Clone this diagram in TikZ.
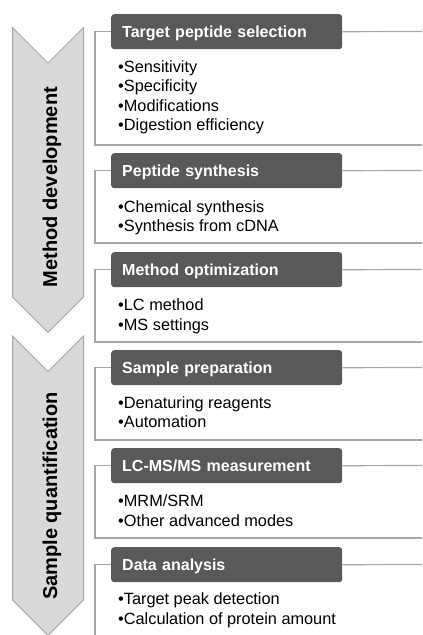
\documentclass[tikz,border=0pt]{standalone}
\usepackage{fontspec}
\setmainfont{Liberation Sans}
\definecolor{boxdark}{HTML}{595959}
\definecolor{linegray}{HTML}{A6A6A6}
\definecolor{chevfill}{HTML}{D9D9D9}
\definecolor{chevline}{HTML}{A6A6A6}
\begin{document}
\begin{tikzpicture}[x=1bp,y=-1bp,
  titlebox/.style={fill=boxdark, rounded corners=3bp, anchor=north west,
    minimum width=231bp, minimum height=35bp, text width=209bp, align=left,
    inner xsep=11bp, inner ysep=0pt, text height=11.5bp, text depth=0pt,
    text=white, font=\fontsize{16bp}{19.4bp}\selectfont\bfseries},
  itemlist/.style={anchor=base west, align=left, inner sep=0pt,
    font=\fontsize{16.3bp}{19.5bp}\selectfont},
  bracket/.style={draw=linegray, line width=1.2bp},
  chevron/.style={fill=chevfill, draw=chevline, line width=1bp},
  sidelabel/.style={rotate=90, anchor=base, inner sep=0pt,
    font=\fontsize{20bp}{24bp}\selectfont\bfseries}]
\useasboundingbox (0,0) rectangle (422,635);

% chevrons
\draw[chevron] (12.5,27.5) -- (48,63) -- (83.5,27.5) -- (83.5,297) -- (48,332.5) -- (12.5,297) -- cycle;
\draw[chevron] (12.5,336) -- (48,371.5) -- (83.5,336) -- (83.5,600) -- (48,635.5) -- (12.5,600) -- cycle;
\node[sidelabel] (md) at (57,187) {Method development};
\node[sidelabel] (sq) at (57,496) {Sample quantification};

% panel 1
\node[titlebox] (t1) at (111,14) {Target peptide selection};
\coordinate (r1) at (422,31.5);
\coordinate (b1) at (422,145);
\draw[bracket] (t1.west) -| (95,145) -- (b1);
\draw[bracket] (t1.east) -- (r1);
\node[itemlist] (l1) at (118,131) {•Sensitivity\\•Specificity\\•Modifications\\•Digestion efficiency};

% panel 2
\node[titlebox] (t2) at (111,153) {Peptide synthesis};
\coordinate (r2) at (422,170.5);
\coordinate (b2) at (422,243);
\draw[bracket] (t2.west) -| (95,243) -- (b2);
\draw[bracket] (t2.east) -- (r2);
\node[itemlist] (l2) at (118,231.5) {•Chemical synthesis\\•Synthesis from cDNA};

% panel 3
\node[titlebox] (t3) at (111,252) {Method optimization};
\coordinate (r3) at (422,269.5);
\coordinate (b3) at (422,342);
\draw[bracket] (t3.west) -| (95,342) -- (b3);
\draw[bracket] (t3.east) -- (r3);
\node[itemlist] (l3) at (118,330) {•LC method\\•MS settings};

% panel 4
\node[titlebox] (t4) at (111,350) {Sample preparation};
\coordinate (r4) at (422,367.5);
\coordinate (b4) at (422,440);
\draw[bracket] (t4.west) -| (95,440) -- (b4);
\draw[bracket] (t4.east) -- (r4);
\node[itemlist] (l4) at (118,427.5) {•Denaturing reagents\\•Automation};

% panel 5
\node[titlebox] (t5) at (111,448) {LC-MS/MS measurement};
\coordinate (r5) at (422,465.5);
\coordinate (b5) at (422,538);
\draw[bracket] (t5.west) -| (95,538) -- (b5);
\draw[bracket] (t5.east) -- (r5);
\node[itemlist] (l5) at (118,526) {•MRM/SRM\\•Other advanced modes};

% panel 6
\node[titlebox] (t6) at (111,547) {Data analysis};
\coordinate (r6) at (422,564.5);
\coordinate (e6) at (95,636);
\draw[bracket] (t6.west) -| (e6);
\draw[bracket] (t6.east) -- (r6);
\node[itemlist] (l6) at (118,624) {•Target peak detection\\•Calculation of protein amount};
\end{tikzpicture}
\end{document}
